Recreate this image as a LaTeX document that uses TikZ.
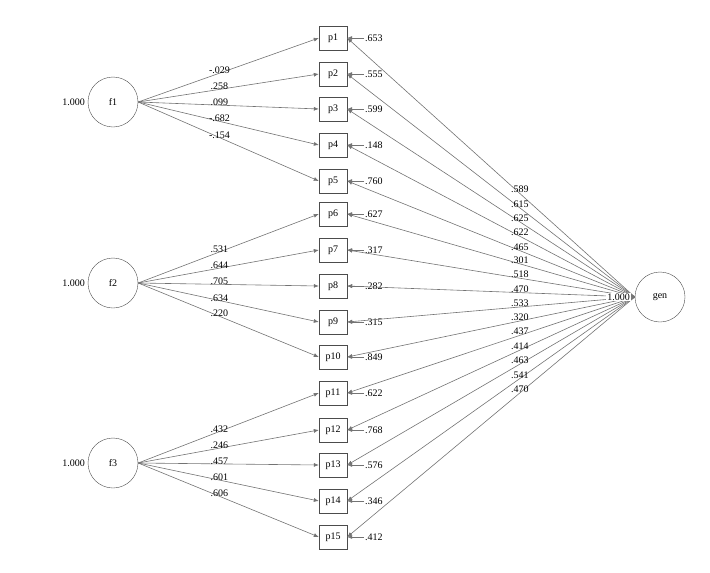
\documentclass[tikz,border=0pt]{standalone}
\usepackage{fontspec}
\setmainfont{Liberation Serif}
\usetikzlibrary{arrows.meta}
\begin{document}
\begin{tikzpicture}[x=1pt,y=-1pt,font=\fontsize{10}{11}\selectfont,
  box/.style={draw=black!70,minimum width=28pt,minimum height=24pt,inner sep=0pt},
  fac/.style={circle,draw=black!70,minimum size=50pt,inner sep=0pt},
  ln/.style={draw=black!55,line width=0.6pt,-{Latex[length=5pt,width=4pt]}},
  lab/.style={inner sep=1pt}]
\useasboundingbox (0,0) rectangle (710,573);
\node[fac] (f1) at (113,102) {f1};
\node[fac] (f2) at (113,283) {f2};
\node[fac] (f3) at (113,463) {f3};
\node[fac] (gen) at (660,297) {gen};
\node[lab,anchor=east] at (86,102) {1.000};
\node[lab,anchor=east] at (86,283) {1.000};
\node[lab,anchor=east] at (86,463) {1.000};
\foreach \i/\y/\e/\g in {1/38/.653/.589,2/74/.555/.615,3/109/.599/.625,4/145/.148/.622,5/181/.760/.465,6/214/.627/.301,7/250/.317/.518,8/286/.282/.470,9/322/.315/.533,10/357/.849/.320,11/393/.622/.437,12/430/.768/.414,13/465/.576/.463,14/501/.346/.541,15/537/.412/.470}{
  \node[box] (p\i) at (333,\y) {p\i};
  \coordinate (e\i) at (364,\y);
  \draw[ln] (e\i) -- (p\i.east);
  \node[lab,anchor=west] at (e\i) {\e};
  \draw[ln] (gen.west) -- node[lab,pos=0.4,above=-1pt] {\g} (p\i.east);
}
\node[lab,anchor=east,fill=white] (gv) at (631,297) {1.000};
\foreach \f/\i/\l in {f1/1/-.029,f1/2/.258,f1/3/.099,f1/4/-.682,f1/5/-.154,
  f2/6/.531,f2/7/.644,f2/8/.705,f2/9/.634,f2/10/.220,
  f3/11/.432,f3/12/.246,f3/13/.457,f3/14/.601,f3/15/.606}{
  \draw[ln] (\f.east) -- node[lab,pos=0.45,above=-2pt] {\l} (p\i.west);
}
\end{tikzpicture}
\end{document}
